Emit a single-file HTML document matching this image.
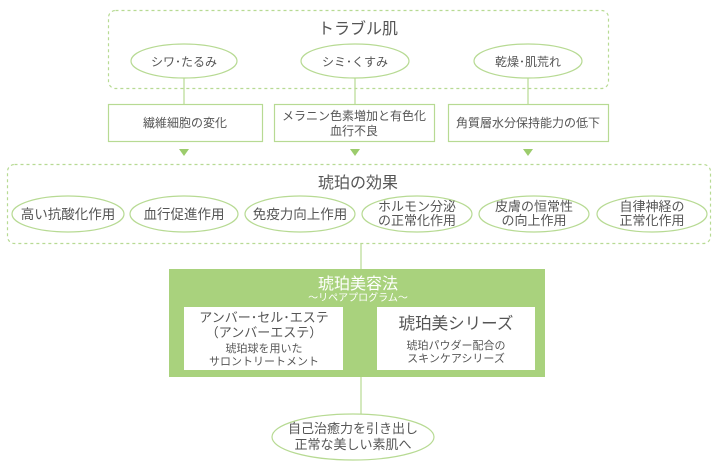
<!DOCTYPE html>
<html><head><meta charset="utf-8"><style>
body{margin:0;background:#fff;}
svg text{font-family:"Liberation Sans","Noto Sans CJK JP",sans-serif;fill:#555;text-anchor:middle;}
</style></head><body>
<svg width="718" height="470" viewBox="0 0 718 470" xmlns="http://www.w3.org/2000/svg">
<g fill="none" stroke="#b7da93" stroke-width="1.2">
<rect x="108.5" y="10.5" width="500" height="78" rx="7" stroke-dasharray="3,3"/>
<ellipse cx="184" cy="61" rx="53" ry="17"/>
<ellipse cx="355" cy="61" rx="54" ry="17"/>
<ellipse cx="528" cy="61" rx="54" ry="17"/>
<line x1="184" y1="78" x2="184" y2="105"/>
<line x1="355" y1="78" x2="355" y2="105"/>
<line x1="528" y1="78" x2="528" y2="105"/>
<rect x="108.5" y="104.5" width="154" height="37"/>
<rect x="274.5" y="104.5" width="160" height="37"/>
<rect x="448.5" y="104.5" width="160" height="37"/>
<rect x="7.5" y="164.5" width="703" height="79" rx="7" stroke-dasharray="3,3"/>
<ellipse cx="68" cy="214" rx="56" ry="18"/>
<ellipse cx="184" cy="214" rx="54" ry="18"/>
<ellipse cx="300" cy="214" rx="55" ry="18"/>
<ellipse cx="417" cy="214" rx="55" ry="18"/>
<ellipse cx="534" cy="214" rx="55" ry="18"/>
<ellipse cx="652" cy="214" rx="55" ry="18"/>
<line x1="361" y1="243" x2="361" y2="269"/>
<line x1="361" y1="376" x2="361" y2="414"/>
<ellipse cx="353" cy="437" rx="81" ry="23"/>
</g>
<g fill="#9ccc6c">
<polygon points="179,149 189,149 184,156"/>
<polygon points="350,149 360,149 355,156"/>
<polygon points="523,149 533,149 528,156"/>
</g>
<rect x="169" y="269" width="376" height="108" fill="#a9d27d"/>
<rect x="184" y="307" width="159" height="63" fill="#fff"/>
<rect x="377" y="307" width="158" height="63" fill="#fff"/>
<text x="358" y="34" font-size="16">トラブル肌</text>
<text x="184" y="66" font-size="12">シワ･たるみ</text>
<text x="355" y="66" font-size="12">シミ･くすみ</text>
<text x="528" y="66" font-size="12">乾燥･肌荒れ</text>
<text x="185" y="127" font-size="12">繊維細胞の変化</text>
<text x="354" y="120" font-size="12">メラニン色素増加と有色化</text>
<text x="354" y="135" font-size="12">血行不良</text>
<text x="528" y="127" font-size="12">角質層水分保持能力の低下</text>
<text x="358" y="188" font-size="16">琥珀の効果</text>
<text x="68" y="219" font-size="13.5">高い抗酸化作用</text>
<text x="184" y="219" font-size="13.5">血行促進作用</text>
<text x="300" y="219" font-size="13.5">免疫力向上作用</text>
<text x="417" y="211" font-size="13">ホルモン分泌</text>
<text x="417" y="225" font-size="13">の正常化作用</text>
<text x="534" y="211" font-size="13">皮膚の恒常性</text>
<text x="534" y="225" font-size="13">の向上作用</text>
<text x="652" y="211" font-size="13">自律神経の</text>
<text x="652" y="225" font-size="13">正常化作用</text>
<text x="358" y="289" font-size="16" style="fill:#fff">琥珀美容法</text>
<text x="358" y="301" font-size="10" style="fill:#fff">〜リペアプログラム〜</text>
<text x="264" y="322" font-size="13">アンバー･セル･エステ</text>
<text x="264" y="337" font-size="13">（アンバーエステ）</text>
<text x="264" y="352" font-size="11">琥珀球を用いた</text>
<text x="264" y="365" font-size="11">サロントリートメント</text>
<text x="456" y="329" font-size="16.5">琥珀美シリーズ</text>
<text x="456" y="349" font-size="11">琥珀パウダー配合の</text>
<text x="456" y="362" font-size="11">スキンケアシリーズ</text>
<text x="353" y="433" font-size="13">自己治癒力を引き出し</text>
<text x="353" y="449" font-size="13">正常な美しい素肌へ</text>
</svg>
</body></html>
